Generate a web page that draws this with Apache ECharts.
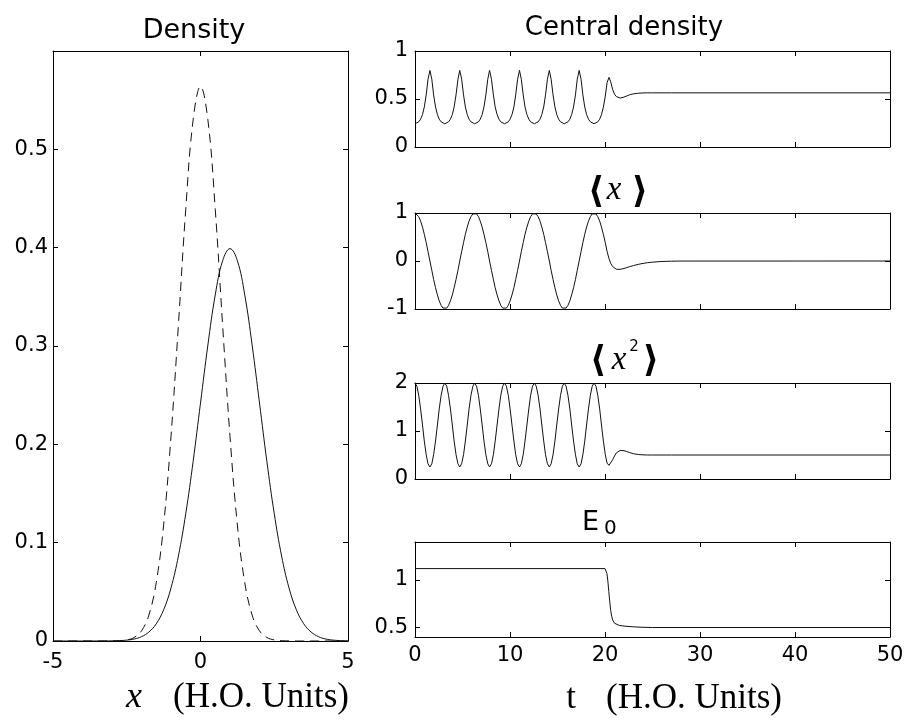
<!DOCTYPE html>
<html>
<head>
<meta charset="utf-8">
<script src="https://cdn.jsdelivr.net/npm/echarts@6/dist/echarts.min.js"></script>
<style>
html,body{margin:0;padding:0;background:#fff;}
#chart{width:920px;height:720px;}
</style>
</head>
<body>
<div id="chart"></div>
<script>
// ---------- Left panel: density vs x ----------
const xPos = [-5,-4.75,-4.5,-4.25,-4,-3.75,-3.5,-3.25,-3,-2.75,-2.5,-2.25,-2,-1.75,-1.5,-1.25,-1,-0.75,-0.5,-0.25,0,0.25,0.5,0.75,1,1.25,1.5,1.75,2,2.25,2.5,2.75,3,3.25,3.5,3.75,4,4.25,4.5,4.75,5];
const densityFinal = [0,0,0,0,0,0,0,0,0.0001,0.0003,0.0011,0.0036,0.0103,0.0264,0.0595,0.118,0.208,0.321,0.439,0.530,0.564,0.530,0.439,0.321,0.208,0.118,0.0595,0.0264,0.0103,0.0036,0.0011,0.0003,0.0001,0,0,0,0,0,0,0,0];
const densityInitial = [0,0,0,0,0,0.00001,0.00002,0.00005,0.00013,0.00035,0.0009,0.002,0.0044,0.0091,0.0175,0.0317,0.054,0.0863,0.1295,0.1826,0.242,0.301,0.352,0.3867,0.399,0.3867,0.352,0.301,0.242,0.1826,0.1295,0.0863,0.054,0.0317,0.0175,0.0091,0.0044,0.002,0.0009,0.00035,0.00013];

// ---------- Right panels: time series ----------
const tCycle = [0,0.20,0.39,0.59,0.79,0.98,1.18,1.37,1.57,1.77,
1.96,2.16,2.36,2.55,2.75,2.95,3.14,3.34,3.53,3.73,
3.93,4.12,4.32,4.52,4.71,4.91,5.11,5.30,5.50,5.69,
5.89,6.09,6.28,6.48,6.68,6.87,7.07,7.26,7.46,7.66,
7.85,8.05,8.25,8.44,8.64,8.84,9.03,9.23,9.42,9.62,
9.82,10.01,10.21,10.41,10.60,10.80,11.00,11.19,11.39,11.58,
11.78,11.98,12.17,12.37,12.57,12.76,12.96,13.16,13.35,13.55,
13.74,13.94,14.14,14.33,14.53,14.73,14.92,15.12,15.32,15.51,
15.71,15.90,16.10,16.30,16.49,16.69,16.89,17.08,17.28,17.48,
17.67,17.87,18.06,18.26,18.46,18.65,18.85];
const tTail = [19.05,19.24,19.44,19.63,19.83,20.03,20.22,20.42,20.6,20.8,21.0,21.2,21.4,21.6,21.8,22.0,22.3,22.6,23.0,23.5,24.0,24.5,25.0,26.0,27.0,28.0,50];

const centralCycle = [
0.242,0.247,0.262,0.290,0.338,0.417,0.543,0.706,0.798,0.706,0.543,0.417,0.338,0.290,0.262,0.247,
0.242,0.247,0.262,0.290,0.338,0.417,0.543,0.706,0.798,0.706,0.543,0.417,0.338,0.290,0.262,0.247,
0.242,0.247,0.262,0.290,0.338,0.417,0.543,0.706,0.798,0.706,0.543,0.417,0.338,0.290,0.262,0.247,
0.242,0.247,0.262,0.290,0.338,0.417,0.543,0.706,0.798,0.706,0.543,0.417,0.338,0.290,0.262,0.247,
0.242,0.247,0.262,0.290,0.338,0.417,0.543,0.706,0.798,0.706,0.543,0.417,0.338,0.290,0.262,0.247,
0.242,0.247,0.262,0.290,0.338,0.417,0.543,0.706,0.798,0.706,0.543,0.417,0.338,0.290,0.262,0.247,
0.242];
const centralTail = [0.247,0.262,0.290,0.338,0.415,0.530,0.670,0.725,0.680,0.600,0.550,0.525,0.513,0.510,0.513,0.520,0.532,0.544,0.554,0.560,0.563,0.564,0.564,0.564,0.564,0.564,0.564];

const meanXCycle = [
1,0.981,0.924,0.831,0.707,0.556,0.383,0.195,0,-0.195,-0.383,-0.556,-0.707,-0.831,-0.924,-0.981,-1,-0.981,-0.924,-0.831,-0.707,-0.556,-0.383,-0.195,0,0.195,0.383,0.556,0.707,0.831,0.924,0.981,
1,0.981,0.924,0.831,0.707,0.556,0.383,0.195,0,-0.195,-0.383,-0.556,-0.707,-0.831,-0.924,-0.981,-1,-0.981,-0.924,-0.831,-0.707,-0.556,-0.383,-0.195,0,0.195,0.383,0.556,0.707,0.831,0.924,0.981,
1,0.981,0.924,0.831,0.707,0.556,0.383,0.195,0,-0.195,-0.383,-0.556,-0.707,-0.831,-0.924,-0.981,-1,-0.981,-0.924,-0.831,-0.707,-0.556,-0.383,-0.195,0,0.195,0.383,0.556,0.707,0.831,0.924,0.981,
1];
const meanXTail = [0.981,0.924,0.831,0.707,0.556,0.383,0.200,0.050,-0.050,-0.115,-0.155,-0.172,-0.178,-0.174,-0.165,-0.155,-0.137,-0.118,-0.095,-0.070,-0.050,-0.035,-0.024,-0.010,-0.004,-0.001,0];

const meanX2Cycle = [
2,1.933,1.744,1.460,1.125,0.790,0.506,0.317,0.250,0.317,0.506,0.790,1.125,1.460,1.744,1.933,
2,1.933,1.744,1.460,1.125,0.790,0.506,0.317,0.250,0.317,0.506,0.790,1.125,1.460,1.744,1.933,
2,1.933,1.744,1.460,1.125,0.790,0.506,0.317,0.250,0.317,0.506,0.790,1.125,1.460,1.744,1.933,
2,1.933,1.744,1.460,1.125,0.790,0.506,0.317,0.250,0.317,0.506,0.790,1.125,1.460,1.744,1.933,
2,1.933,1.744,1.460,1.125,0.790,0.506,0.317,0.250,0.317,0.506,0.790,1.125,1.460,1.744,1.933,
2,1.933,1.744,1.460,1.125,0.790,0.506,0.317,0.250,0.317,0.506,0.790,1.125,1.460,1.744,1.933,
2];
const meanX2Tail = [1.933,1.744,1.460,1.125,0.790,0.510,0.330,0.285,0.320,0.400,0.480,0.545,0.580,0.595,0.597,0.590,0.572,0.550,0.527,0.510,0.503,0.500,0.500,0.500,0.500,0.500,0.500];

const tEnergy = [0,20.0,20.1,20.2,20.3,20.4,20.5,20.6,20.7,20.8,21.0,21.2,21.5,22.0,23.0,24.0,25.0,50];
const energy = [1.12,1.12,1.11,1.07,0.99,0.88,0.77,0.68,0.62,0.58,0.545,0.53,0.522,0.515,0.507,0.502,0.5,0.5];

// tick values
const xTicksLeft = {min:-5, max:5, interval:5};
const tTicks = {min:0, max:50, interval:10};
const energyTickValues = [0.5, 1];

// ---------- build ----------
function pairs(xs, ys){ return xs.map((x,i)=>[x, ys[i]]); }
const tFull = tCycle.concat(tTail);

const FONT = 'DejaVu Sans';
const SERIF = 'Liberation Serif';
const INK = '#000';

const grids = [
  {left:53, top:51, width:295, height:590},
  {left:415, top:51, width:475, height:96},
  {left:415, top:213, width:475, height:96},
  {left:415, top:383, width:475, height:96},
  {left:415, top:542, width:475, height:95}
];

const xSpecs = [
  Object.assign({labels:true, margin:11}, xTicksLeft),
  Object.assign({labels:false}, tTicks),
  Object.assign({labels:false}, tTicks),
  Object.assign({labels:false}, tTicks),
  Object.assign({labels:true, margin:8}, tTicks)
];
const ySpecs = [
  {min:0, max:0.6, interval:0.1, hideMax:true, margin:5},
  {min:0, max:1, interval:0.5, margin:7},
  {min:-1, max:1, interval:1, margin:7},
  {min:0, max:2, interval:1, margin:7},
  {min:0.4, max:1.4, custom:energyTickValues, margin:7}
];

function makeAxis(spec, gi, position, showLabel){
  const a = {
    type:'value', gridIndex:gi, position:position,
    min:spec.min, max:spec.max,
    axisLine:{show:true, onZero:false, lineStyle:{color:INK, width:1}},
    axisTick:{show:true, inside:true, length:5, lineStyle:{color:INK, width:1}},
    splitLine:{show:false},
    axisLabel:{show:showLabel, color:INK, fontFamily:FONT, fontSize:21, margin:spec.margin || 8}
  };
  if (spec.interval !== undefined) a.interval = spec.interval;
  if (spec.hideMax) { a.axisLabel.showMaxLabel = false; }
  if (spec.custom) {
    a.axisLabel.customValues = spec.custom;
    a.axisTick.customValues = spec.custom;
  }
  return a;
}

const xAxes = [], yAxes = [];
xSpecs.forEach((s,i)=>xAxes.push(makeAxis(s, i, 'bottom', s.labels)));
xSpecs.forEach((s,i)=>xAxes.push(makeAxis(s, i, 'top', false)));
ySpecs.forEach((s,i)=>yAxes.push(makeAxis(s, i, 'left', true)));
ySpecs.forEach((s,i)=>yAxes.push(makeAxis(s, i, 'right', false)));

function lineSeries(xi, yi, data, extra){
  return Object.assign({
    type:'line', xAxisIndex:xi, yAxisIndex:yi, data:data,
    showSymbol:false, symbol:'none', silent:true, animation:false,
    lineStyle:{color:'#111', width:1}
  }, extra || {});
}

const series = [
  lineSeries(0,0,pairs(xPos, densityFinal), {smooth:0.4, lineStyle:{color:'#111', width:1, type:[9,6]}}),
  lineSeries(0,0,pairs(xPos, densityInitial), {smooth:0.4}),
  lineSeries(1,1,pairs(tFull, centralCycle.concat(centralTail))),
  lineSeries(2,2,pairs(tFull, meanXCycle.concat(meanXTail))),
  lineSeries(3,3,pairs(tFull, meanX2Cycle.concat(meanX2Tail))),
  lineSeries(4,4,pairs(tEnergy, energy))
];

function txt(x, y, text, size, family, opts){
  opts = opts || {};
  return {
    type:'text', x:x, y:y, silent:true,
    style:{
      text:text, fill:INK,
      fontSize:size, fontFamily:family,
      fontStyle:opts.italic ? 'italic' : 'normal',
      fontWeight:opts.bold ? 'bold' : 'normal',
      textAlign:opts.align || 'center', align:opts.align || 'center',
      textVerticalAlign:'middle', verticalAlign:'middle'
    }
  };
}

const graphic = [
  txt(194, 31, 'Density', 27, FONT),
  txt(624, 28, 'Central density', 26, FONT),
  // <x>
  txt(596, 193, '\u27E8', 36, FONT, {bold:true}),
  txt(614, 190, 'x', 33, SERIF, {italic:true}),
  txt(640, 193, '\u27E9', 36, FONT, {bold:true}),
  // <x^2>
  txt(598, 362, '\u27E8', 36, FONT, {bold:true}),
  txt(619, 360, 'x', 33, SERIF, {italic:true}),
  txt(634, 347, '2', 15, FONT),
  txt(651, 362, '\u27E9', 36, FONT, {bold:true}),
  // E0
  txt(582, 523, 'E', 27, FONT, {align:'left'}),
  txt(604, 529, '0', 20, FONT, {align:'left'}),
  // axis names
  txt(134, 698, 'x', 36, SERIF, {italic:true}),
  txt(173, 698, '(H.O. Units)', 35, SERIF, {align:'left'}),
  txt(571, 699, 't', 35, SERIF),
  txt(606, 699, '(H.O. Units)', 35, SERIF, {align:'left'})
];

const chart = echarts.init(document.getElementById('chart'), null, {renderer:'canvas'});
chart.setOption({
  animation:false,
  backgroundColor:'#ffffff',
  grid:grids,
  xAxis:xAxes,
  yAxis:yAxes,
  series:series,
  graphic:graphic
});
</script>
</body>
</html>
